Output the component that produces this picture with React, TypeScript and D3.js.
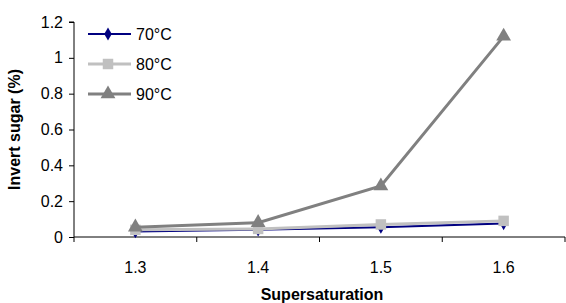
import React, { useEffect, useRef } from 'react';
import * as d3 from 'd3';

const categories = ['1.3', '1.4', '1.5', '1.6'];
const yTicks = [0, 0.2, 0.4, 0.6, 0.8, 1, 1.2];
const series70 = [0.03, 0.04, 0.055, 0.075];
const series80 = [0.04, 0.045, 0.07, 0.09];
const series90 = [0.055, 0.08, 0.285, 1.12];

const seriesList = [
  { name: '70°C', values: series70, color: '#000080', marker: 'diamond', width: 2 },
  { name: '80°C', values: series80, color: '#C0C0C0', marker: 'square', width: 3 },
  { name: '90°C', values: series90, color: '#808080', marker: 'triangle', width: 3 },
];

const W = 566;
const H = 303;
const m = { left: 74, right: 1, top: 22, bottom: 66 };

export default function App() {
  const ref = useRef<SVGSVGElement>(null);

  useEffect(() => {
    const svg = d3.select(ref.current);
    svg.selectAll('*').remove();

    const x = d3.scaleBand().domain(categories).range([m.left, W - m.right]);
    const y = d3.scaleLinear().domain([0, 1.2]).range([H - m.bottom, m.top]);
    const font = 'Arial, "Liberation Sans", sans-serif';
    const fs = '16px';

    // y axis
    const yAxis = svg
      .append('g')
      .attr('transform', `translate(${m.left},0)`)
      .call(d3.axisLeft(y).tickValues(yTicks).tickSize(5).tickPadding(6).tickFormat((d) => d3.format('')(+d)));
    yAxis.select('.domain').attr('stroke', '#000').attr('d', `M-5,${y(1.2)}H0V${y(0)}`);
    yAxis.selectAll('text').style('font-family', font).style('font-size', fs).attr('fill', '#000');

    // x axis
    const xg = svg.append('g').attr('transform', `translate(0,${y(0)})`);
    xg.append('line').attr('x1', m.left).attr('x2', W - m.right).attr('stroke', '#000');
    const bounds = categories.map((c) => x(c) as number).concat([W - m.right]);
    xg.selectAll('line.tick')
      .data(bounds)
      .enter()
      .append('line')
      .attr('x1', (d) => d)
      .attr('x2', (d) => d)
      .attr('y1', 0)
      .attr('y2', 5)
      .attr('stroke', '#000');
    xg.selectAll('text')
      .data(categories)
      .enter()
      .append('text')
      .attr('x', (d) => (x(d) as number) + x.bandwidth() / 2)
      .attr('y', 36)
      .attr('text-anchor', 'middle')
      .style('font-family', font)
      .style('font-size', fs)
      .text((d) => d);

    // titles
    svg
      .append('text')
      .attr('x', 322)
      .attr('y', 300)
      .attr('text-anchor', 'middle')
      .style('font-family', font)
      .style('font-size', fs)
      .style('font-weight', 'bold')
      .text('Supersaturation');
    svg
      .append('text')
      .attr('transform', `translate(20,${(y(0) + y(1.2)) / 2}) rotate(-90)`)
      .attr('text-anchor', 'middle')
      .style('font-family', font)
      .style('font-size', fs)
      .style('font-weight', 'bold')
      .text('Invert sugar (%)');

    const cx = (i: number) => (x(categories[i]) as number) + x.bandwidth() / 2;
    const line = d3
      .line<number>()
      .x((_, i) => cx(i))
      .y((d) => y(d));

    const sym = (k: string) =>
      k === 'diamond'
        ? d3.symbol().type(d3.symbolDiamond).size(50)()
        : k === 'square'
        ? d3.symbol().type(d3.symbolSquare).size(110)()
        : d3.symbol().type(d3.symbolTriangle).size(95)();

    seriesList.forEach((s) => {
      svg
        .append('path')
        .datum(s.values)
        .attr('d', line)
        .attr('fill', 'none')
        .attr('stroke', s.color)
        .attr('stroke-width', s.width);
      svg
        .selectAll(null)
        .data(s.values)
        .enter()
        .append('path')
        .attr('d', sym(s.marker))
        .attr('transform', (d, i) => `translate(${cx(i)},${y(d)})`)
        .attr('fill', s.color);
    });

    // legend
    const lg = svg.append('g');
    seriesList.forEach((s, i) => {
      const ly = 34 + i * 30;
      lg.append('line')
        .attr('x1', 88)
        .attr('x2', 131)
        .attr('y1', ly)
        .attr('y2', ly)
        .attr('stroke', s.color)
        .attr('stroke-width', s.width);
      lg.append('path')
        .attr('d', sym(s.marker))
        .attr('transform', `translate(108,${ly})`)
        .attr('fill', s.color);
      lg.append('text')
        .attr('x', 136)
        .attr('y', ly + 6)
        .style('font-family', font)
        .style('font-size', fs)
        .text(s.name);
    });
  }, []);

  return (
    <svg
      ref={ref}
      width={W}
      height={H}
      style={{ position: 'absolute', left: 0, top: 0, background: '#fff' }}
    />
  );
}
